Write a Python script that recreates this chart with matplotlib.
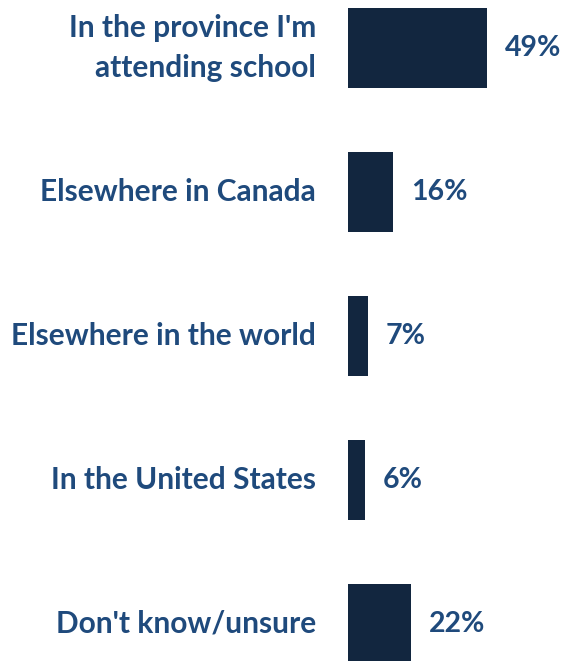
import matplotlib.pyplot as plt

# Data
categories = ["In the province I'm\nattending school", "Elsewhere in Canada",
              "Elsewhere in the world", "In the United States", "Don't know/unsure"]
values = [49, 16, 7, 6, 22]

bar_color = "#12263F"
text_color = "#1F4A7C"

plt.rcParams['font.family'] = ['Lato', 'DejaVu Sans']

fig = plt.figure(figsize=(5.64, 6.61), dpi=100)
ax = fig.add_axes([348 / 564, 0, 216 / 564, 1])

ypos = range(len(categories))
ax.barh(ypos, values, height=0.556, color=bar_color)

ax.set_xlim(0, 76)
ax.set_ylim(-0.333 + 661 / 144, -0.333)

for y, v, c in zip(ypos, values, categories):
    ax.annotate(f"{v}%", xy=(v, y), xytext=(13, 0), textcoords="offset points",
                ha="left", va="center", fontsize=20.5, fontweight="bold", color=text_color)
    ax.annotate(c, xy=(0, y), xytext=(-23, 0), textcoords="offset points",
                ha="right", va="center", fontsize=21.5, fontweight="bold", color=text_color,
                linespacing=1.5)

ax.axis("off")
fig.savefig("out.png", dpi=100)
